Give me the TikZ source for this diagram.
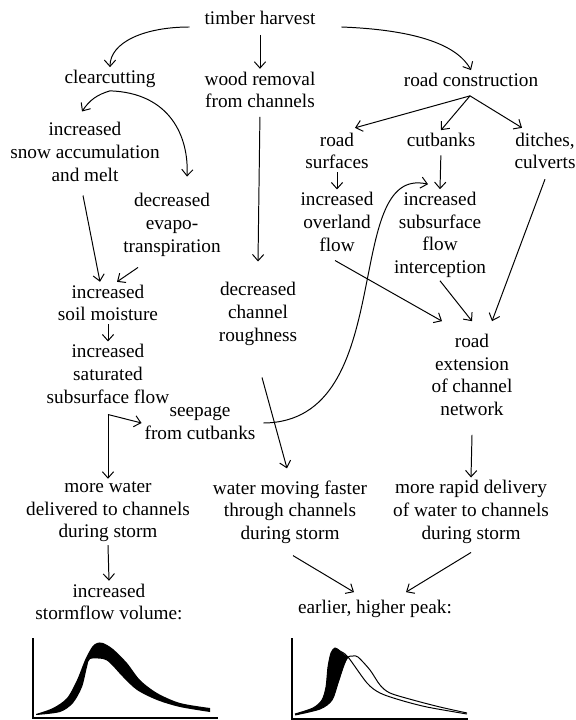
\documentclass[tikz,border=0pt]{standalone}
\usepackage{fontspec}
\setmainfont{Liberation Serif}
\usetikzlibrary{arrows.meta, calc}

\begin{document}
\begin{tikzpicture}[x=0.025cm, y=-0.025cm,
  txt/.style={align=center, inner sep=2pt, font=\fontsize{13.7}{16.1}\selectfont},
  arrow/.style={-{Straight Barb[length=4.5pt,width=8pt]}, line width=0.7pt},
  axis/.style={line width=0.8pt},
  hydro/.style={line width=0.7pt}
]
  \useasboundingbox (0,0) rectangle (576,720);

  \node[txt] (timber) at (260,18) {timber harvest};
  \node[txt] (clear) at (110,79) {clearcutting};
  \node[txt] (wood) at (260,90) {wood removal\\from channels};
  \node[txt] (road) at (471,80) {road construction};
  \node[txt] (snow) at (85,152) {increased\\snow accumulation\\and melt};
  \node[txt] (evapo) at (172,225) {decreased\\evapo-\\transpiration};
  \node[txt] (rsurf) at (337,151) {road\\surfaces};
  \node[txt] (cutb) at (441,140) {cutbanks};
  \node[txt] (ditch) at (545,151) {ditches,\\culverts};
  \node[txt] (overl) at (337,222) {increased\\overland\\flow};
  \node[txt] (intercept) at (440,235) {increased\\subsurface\\flow\\interception};
  \node[txt] (rext) at (472,375) {road\\extension\\of channel\\network};
  \node[txt] (rough) at (258,314) {decreased\\channel\\roughness};
  \node[txt] (soil) at (108,303) {increased\\soil moisture};
  \node[txt] (satur) at (108,374) {increased\\saturated\\subsurface flow};
  \node[txt] (seep) at (200,423) {seepage\\from cutbanks};
  \node[txt] (morew) at (108,512) {more water\\delivered to channels\\during storm};
  \node[txt] (fastw) at (290,512) {water moving faster\\through channels\\during storm};
  \node[txt] (rapid) at (471,512) {more rapid delivery\\of water to channels\\during storm};
  \node[txt] (volume) at (109,602) {increased\\stormflow volume:};
  \node[txt] (peak) at (375,609) {earlier, higher peak:};
  \coordinate (split) at ($(satur.south)+(0,8)$);

  \draw[arrow] ($(timber.west)+(-12,9)$) .. controls +(-45,0) and +(0,-25) .. (clear.north);
  \draw[arrow, shorten <=5pt] (timber.south) -- (wood.north);
  \draw[arrow] ($(timber.east)+(23,9)$) .. controls +(78,3) and +(-13,-24) .. (road.north);
  \draw[arrow] (clear.south) to[bend right=20] ($(snow.north)+(-3,-8)$);
  \draw[arrow] (clear.south) .. controls +(60,2) and +(2,-40) .. ($(evapo.north)+(15,-14)$);
  \draw[arrow, shorten <=4pt] (wood.south) -- ($(rough.north)+(0,-18)$);
  \draw[arrow] ($(road.south)+(-1,6)$) -- ($(rsurf.north)+(18,-2)$);
  \draw[arrow] ($(road.south)+(-1,6)$) -- (cutb.north);
  \draw[arrow] ($(road.south)+(-1,6)$) -- ($(ditch.north)+(-23,-2)$);
  \draw[arrow] (rsurf.south) -- (overl.north);
  \draw[arrow, shorten <=4pt] (cutb.south) -- (intercept.north);
  \draw[arrow] ($(ditch.south)+(0,7)$) -- ($(rext.north)+(20,-10)$);
  \draw[arrow] ($(overl.south)+(-2,6)$) -- ($(rext.north)+(-30,-10)$);
  \draw[arrow] (intercept.south) -- ($(rext.north)+(0,-10)$);
  \draw[arrow] ($(snow.south)+(-2,11)$) -- ($(soil.north)+(-8,0)$);
  \draw[arrow] ($(evapo.south)+(-34,8)$) -- ($(soil.north)+(9,0)$);
  \draw[arrow] (soil.south) -- (satur.north);
  \draw[arrow] (split) -- (seep.west);
  \draw[arrow] (split) -- (morew.north);
  \draw[arrow] ($(seep.east)+(5,0)$) .. controls +(137,-1) and +(-88,-20) .. ($(intercept.north)+(-12,-5)$);
  \draw[arrow] ($(rough.south)+(4,29)$) -- ($(fastw.north)+(-3,-9)$);
  \draw[arrow] ($(rext.south)+(0,16)$) -- (rapid.north);
  \draw[arrow] (morew.south) -- (volume.north);
  \draw[arrow] ($(fastw.south)+(3,9)$) -- ($(peak.north)+(-21,-5)$);
  \draw[arrow] ($(rapid.south)+(0,6)$) -- ($(peak.north)+(31,-5)$);

  % stormflow volume
  \draw[axis] (33,638) -- (33,718) -- (218,718);
  \fill plot[smooth] coordinates {(36,714) (53,708) (67,698) (77,680) (85,660) (92,647) (97,643) (103,643) (113,649) (127,663) (140,680) (157,693) (180,703) (210,708)}
    -- plot[smooth] coordinates {(210,712) (180,707) (157,700) (137,690) (123,677) (110,663) (103,659) (90,659) (87,667) (82,687) (73,703) (60,712) (36,715)} -- cycle;

  % earlier, higher peak
  \draw[axis] (292,638) -- (292,719) -- (468,719);
  \fill plot[smooth] coordinates {(295,714) (313,708) (322,700) (326,687) (328,667) (331,653) (335,648) (340,651) (348,657)}
    -- plot[smooth] coordinates {(344,665) (338,683) (332,700) (320,709) (295,715)} -- cycle;
  \draw[hydro] plot[smooth] coordinates {(295,714) (313,708) (322,700) (326,687) (328,667) (331,653) (335,648) (340,651) (348,657) (367,683) (380,693) (400,700) (427,707) (467,714)};
  \draw[hydro] plot[smooth] coordinates {(295,715) (320,709) (332,700) (338,683) (344,665) (348,657) (353,656) (358,657) (370,670) (380,685) (390,693) (413,700) (440,707) (467,713)};
\end{tikzpicture}
\end{document}
